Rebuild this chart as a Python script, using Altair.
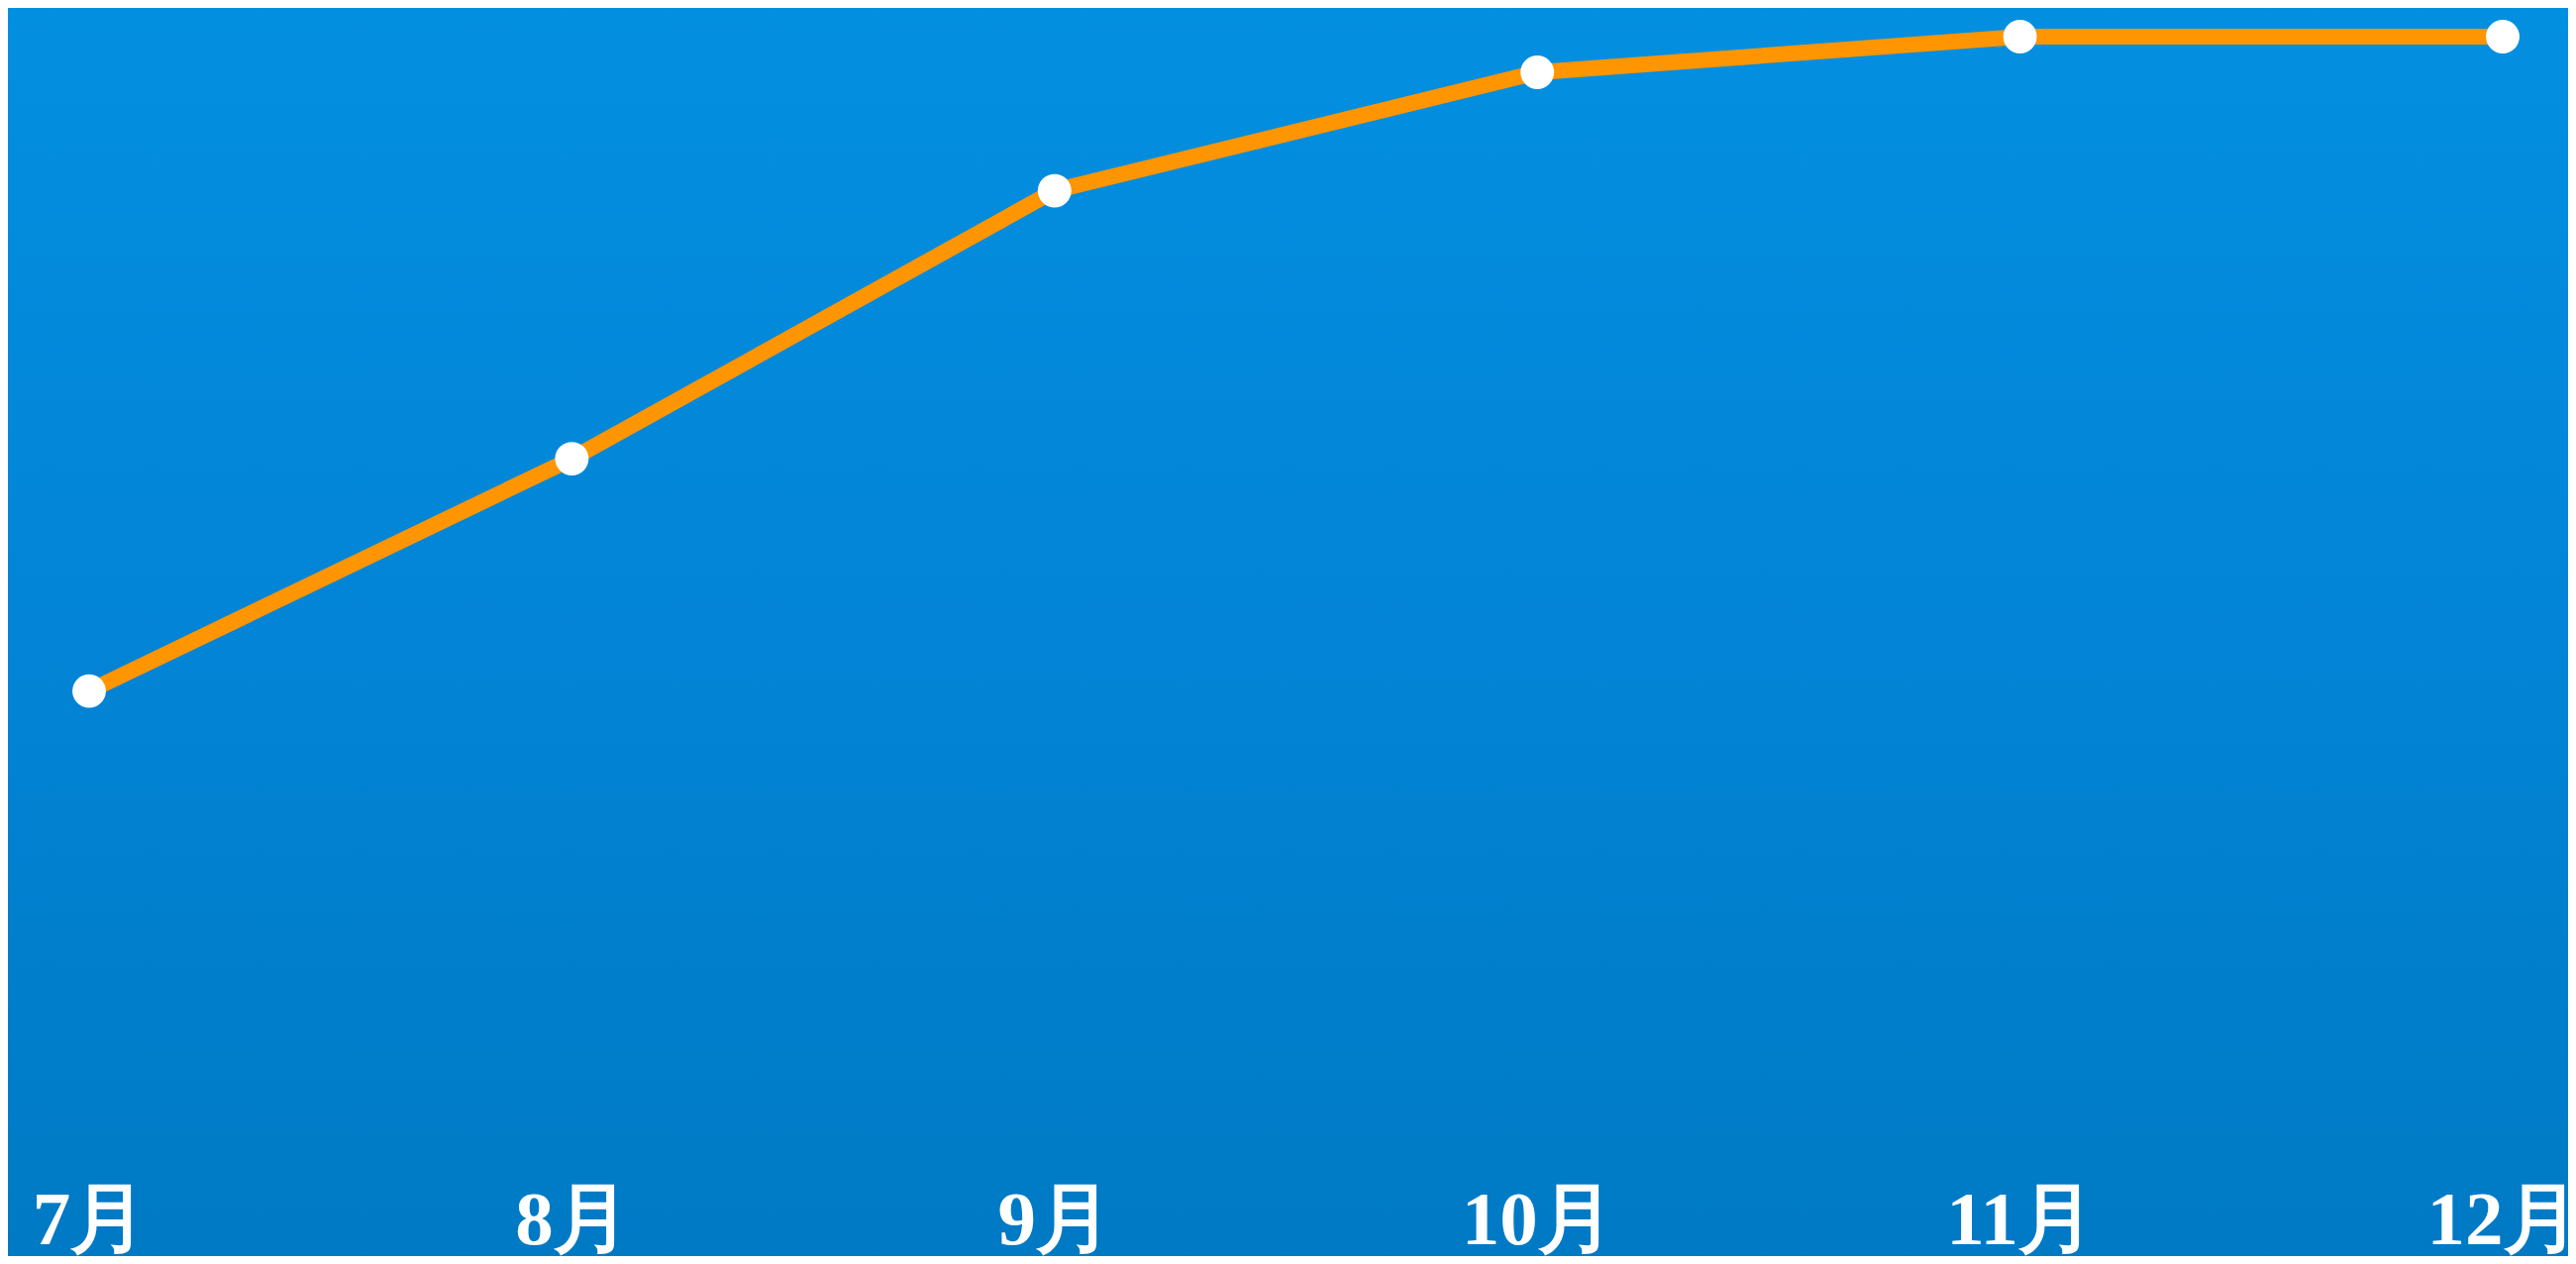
import altair as alt
import pandas as pd

months = ["7月", "8月", "9月", "10月", "11月", "12月"]
values = [43.1, 63.3, 86.6, 96.9, 100.0, 100.0]

df = pd.DataFrame({"month": months, "value": values})

W = 2585
H = 1190

x_enc = alt.X(
    "month:O",
    sort=months,
    scale=alt.Scale(range=[82, 2519], padding=0),
    axis=alt.Axis(
        title=None,
        labelAngle=0,
        domain=False,
        ticks=False,
        grid=False,
        labelColor="white",
        labelFont="Liberation Serif",
        labelFontWeight="bold",
        labelFontSize=77,
        labelPadding=-4,
        labelBaseline="top",
        zindex=2,
    ),
)
y_enc = alt.Y("value:Q", scale=alt.Scale(domain=[0, 102.5], nice=False, zero=True), axis=None)

bg = alt.Chart(alt.Data(values=[{"a": 1}])).mark_rect(
    color=alt.Gradient(
        gradient="linear",
        x1=0, y1=0, x2=0, y2=1,
        stops=[
            alt.GradientStop(color="#038fe0", offset=0),
            alt.GradientStop(color="#0384d6", offset=0.5),
            alt.GradientStop(color="#007dc9", offset=0.85),
            alt.GradientStop(color="#0079c3", offset=1),
        ],
    )
).encode(
    x=alt.value(-10), x2=alt.value(W + 10), y=alt.value(-10), y2=alt.value(1275)
)

base = alt.Chart(df)
line = base.mark_line(color="#ff9500", strokeWidth=16).encode(x=x_enc, y=y_enc)
pts = base.mark_point(filled=True, color="white", opacity=1, size=1150, shape="circle").encode(
    x=alt.X("month:O", sort=months), y=alt.Y("value:Q")
)

chart = (
    alt.layer(bg, line, pts)
    .properties(
        width=W,
        height=H,
        autosize=alt.AutoSizeParams(type="none"),
        padding={"left": 0, "right": 0, "top": 0, "bottom": 70},
        background="#0079c3",
    )
    .configure_view(stroke=None)
)

chart.save("out.html", embed_options={"renderer": "svg", "actions": False})
